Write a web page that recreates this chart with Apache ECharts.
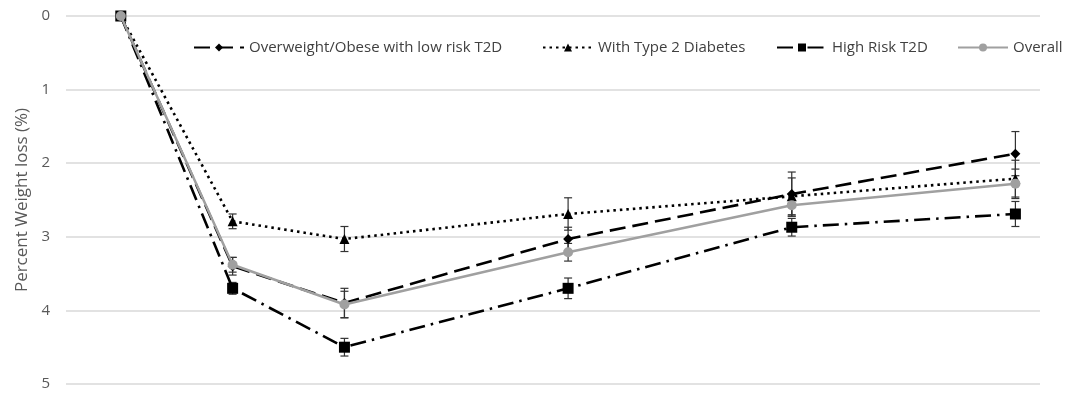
<!DOCTYPE html>
<html><head><meta charset="utf-8">
<script src="https://cdn.jsdelivr.net/npm/echarts@6/dist/echarts.min.js"></script>
<style>html,body{margin:0;padding:0;background:#fff}#c{width:1076px;height:397px}</style>
</head><body><div id="c"></div>
<script>
// time points (months)
const timePoints = [0, 1, 2, 4, 6, 8];
const yTicks = [0, 1, 2, 3, 4, 5];
const seriesNames = ['Overweight/Obese with low risk T2D', 'With Type 2 Diabetes', 'High Risk T2D', 'Overall'];
const lowRisk = [0, 3.40, 3.90, 3.03, 2.42, 1.87];
const lowRiskErr = [0, 0.12, 0.20, 0.16, 0.30, 0.30];
const type2 = [0, 2.79, 3.03, 2.69, 2.45, 2.21];
const type2Err = [0, 0.10, 0.17, 0.22, 0.25, 0.25];
const highRisk = [0, 3.70, 4.50, 3.70, 2.87, 2.69];
const highRiskErr = [0, 0.08, 0.12, 0.14, 0.12, 0.17];
const overall = [0, 3.38, 3.92, 3.21, 2.57, 2.28];
const overallErr = [0, 0.10, 0.18, 0.12, 0.15, 0.20];

const chart = echarts.init(document.getElementById('c'), null, {renderer: 'canvas'});
const pairs = v => timePoints.map((t, i) => [t, v[i]]);
function errSeries(vals, errs) {
  return {
    type: 'custom', silent: true, z: 1,
    data: timePoints.map((t, i) => [t, vals[i] - errs[i], vals[i] + errs[i]]),
    renderItem: function (params, api) {
      const x = api.value(0);
      const lo = api.coord([x, api.value(1)]);
      const hi = api.coord([x, api.value(2)]);
      const w = 4;
      const st = {stroke: '#333', lineWidth: 1.2};
      return {type: 'group', children: [
        {type: 'line', shape: {x1: lo[0], y1: lo[1], x2: hi[0], y2: hi[1]}, style: st},
        {type: 'line', shape: {x1: lo[0] - w, y1: lo[1], x2: lo[0] + w, y2: lo[1]}, style: st},
        {type: 'line', shape: {x1: hi[0] - w, y1: hi[1], x2: hi[0] + w, y2: hi[1]}, style: st}
      ]};
    }
  };
}
const font = '"Open Sans", "Noto Sans", sans-serif';
const legendLefts = [193, 542, 776, 957];
const legendTpl = (name, left) => ({
  top: 40, left: left, itemWidth: 50, itemHeight: 10, padding: 0,
  textStyle: {fontFamily: font, fontSize: 15, color: '#404040'},
  data: [name]
});
chart.setOption({
  animation: false,
  backgroundColor: '#fff',
  grid: {left: 66, right: 36, top: 16, bottom: 13},
  legend: seriesNames.map((n, i) => legendTpl(n, legendLefts[i])),
  xAxis: {type: 'value', min: -0.49, max: 8.22, show: false, splitLine: {show: false}},
  yAxis: {
    type: 'value', inverse: true, min: yTicks[0], max: yTicks[yTicks.length - 1], interval: 1,
    name: 'Percent Weight loss (%)', nameLocation: 'middle', nameGap: 32,
    nameTextStyle: {fontFamily: font, fontSize: 17, color: '#595959'},
    axisLine: {show: false}, axisTick: {show: false},
    axisLabel: {fontFamily: font, fontSize: 15, color: '#595959', margin: 16},
    splitLine: {lineStyle: {color: '#d9d9d9', width: 1.5}}
  },
  series: [
    errSeries(lowRisk, lowRiskErr),
    errSeries(type2, type2Err),
    errSeries(highRisk, highRiskErr),
    errSeries(overall, overallErr),
    {name: seriesNames[0], type: 'line', data: pairs(lowRisk), symbol: 'diamond', symbolSize: 10,
     itemStyle: {color: '#000'}, lineStyle: {color: '#000', width: 2.6, type: [16, 7]}, z: 3},
    {name: seriesNames[1], type: 'line', data: pairs(type2), symbol: 'triangle', symbolSize: 10,
     itemStyle: {color: '#000'}, lineStyle: {color: '#000', width: 2.6, type: [2.5, 4]}, z: 3},
    {name: seriesNames[2], type: 'line', data: pairs(highRisk), symbol: 'rect', symbolSize: 11,
     itemStyle: {color: '#000'}, lineStyle: {color: '#000', width: 2.6, type: [16, 6, 2.5, 6]}, z: 3},
    {name: seriesNames[3], type: 'line', data: pairs(overall), symbol: 'circle', symbolSize: 10,
     itemStyle: {color: '#a0a0a0'}, lineStyle: {color: '#a0a0a0', width: 2.5}, z: 4}
  ]
});
</script></body></html>
